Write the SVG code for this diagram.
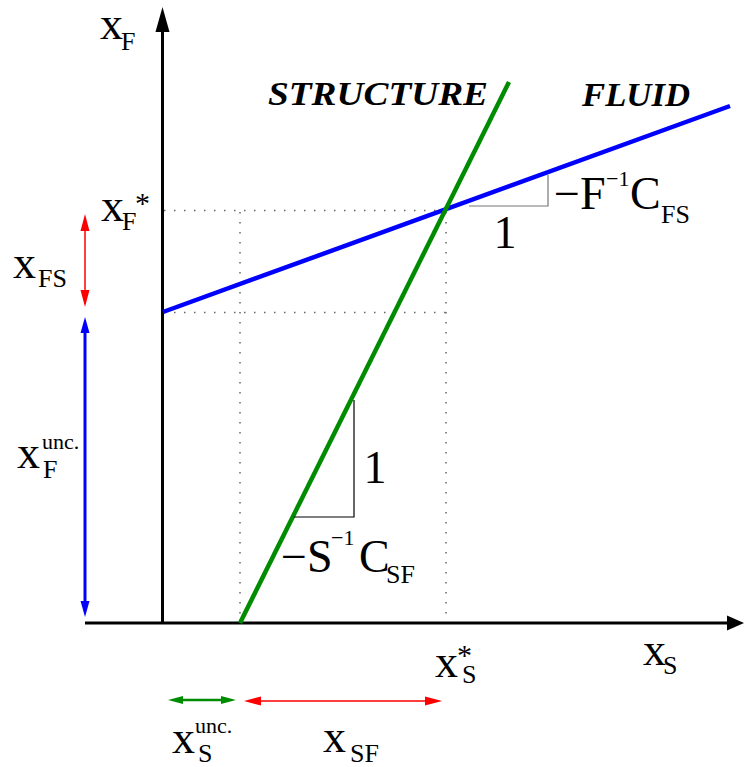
<svg xmlns="http://www.w3.org/2000/svg" width="744" height="767" viewBox="0 0 744 767">
<style>
.t{font-family:"Liberation Serif","Times New Roman",serif;fill:#000;font-size:46px}
.sub{font-size:26px}
.sup{font-size:22px}
.ast{font-size:30px}
.title{font-family:"Liberation Serif","Times New Roman",serif;font-weight:bold;font-style:italic;font-size:33px;fill:#000}
.axis{stroke:#000;stroke-width:3;fill:none}
.dot{stroke:#666;stroke-width:1.5;stroke-dasharray:1.5 8.5;fill:none}
.tri{stroke-width:1.2;fill:none}
</style>
<defs>
<marker id="ahR" markerUnits="userSpaceOnUse" orient="auto-start-reverse" refX="0" refY="0" markerWidth="20" markerHeight="12" overflow="visible">
<path d="M0,-4.5 L17,0 L0,4.5 z" fill="#ff0000"/>
</marker>
<marker id="ahB" markerUnits="userSpaceOnUse" orient="auto-start-reverse" refX="0" refY="0" markerWidth="20" markerHeight="12" overflow="visible">
<path d="M0,-4.5 L16,0 L0,4.5 z" fill="#0000ff"/>
</marker>
<marker id="ahG" markerUnits="userSpaceOnUse" orient="auto-start-reverse" refX="0" refY="0" markerWidth="20" markerHeight="12" overflow="visible">
<path d="M0,-4 L15,0 L0,4 z" fill="#008c00"/>
</marker>
</defs>

<g id="guides">
<line class="dot" x1="164" y1="210.5" x2="446" y2="210.5"/>
<line class="dot" x1="164" y1="312.5" x2="446" y2="312.5"/>
<line class="dot" x1="240" y1="212" x2="240" y2="622"/>
<line class="dot" x1="446" y1="212" x2="446" y2="622"/>
</g>

<g id="axes">
<line class="axis" x1="162.5" y1="623" x2="162.5" y2="30"/>
<polygon points="162.5,7 155.5,32 169.5,32" fill="#000"/>
<line class="axis" x1="85" y1="623" x2="729" y2="623"/>
<polygon points="744,623 727,615.5 727,630.5" fill="#000"/>
</g>

<g id="connectors">
<line id="fluid-line" x1="163" y1="312" x2="730" y2="106" stroke="#0000ff" stroke-width="4.5"/>
<line id="structure-line" x1="240" y1="623" x2="509" y2="82" stroke="#008c00" stroke-width="4.5"/>
<polyline class="tri" points="469,206 548,206 548,175" stroke="#777"/>
<polyline class="tri" points="294,517 354,517 354,400" stroke="#000"/>
<line x1="85" y1="231" x2="85" y2="290" stroke="#ff0000" stroke-width="1.5" marker-start="url(#ahR)" marker-end="url(#ahR)"/>
<line x1="85" y1="333" x2="85" y2="601" stroke="#0000ff" stroke-width="3" marker-start="url(#ahB)" marker-end="url(#ahB)"/>
<line x1="183" y1="700" x2="221" y2="700" stroke="#008c00" stroke-width="2.5" marker-start="url(#ahG)" marker-end="url(#ahG)"/>
<line x1="261" y1="701" x2="425" y2="701" stroke="#ff0000" stroke-width="1.5" marker-start="url(#ahR)" marker-end="url(#ahR)"/>
</g>

<g id="label-xF">
<text class="t" x="100" y="39">x<tspan class="sub" x="121" y="50">F</tspan></text>
</g>
<g id="label-xFstar">
<text class="t" x="101" y="221">x<tspan class="sub" x="122" y="230">F</tspan><tspan class="ast" x="135" y="213">*</tspan></text>
</g>
<g id="label-xFS">
<text class="t" x="13" y="278">x<tspan class="sub" x="38" y="287">FS</tspan></text>
</g>
<g id="label-xFunc">
<text class="t" x="17" y="468">x<tspan class="sup" x="42" y="449">unc.</tspan><tspan class="sub" x="43" y="478">F</tspan></text>
</g>
<g id="label-structure">
<text class="title" x="268" y="105" textLength="220" lengthAdjust="spacingAndGlyphs">STRUCTURE</text>
</g>
<g id="label-fluid">
<text class="title" x="582" y="106" textLength="108" lengthAdjust="spacingAndGlyphs">FLUID</text>
</g>
<g id="label-slopeF">
<text class="t" x="505" y="248" text-anchor="middle">1</text>
<text class="t" x="554" y="209">−F<tspan class="sup" x="606" y="186">−1</tspan><tspan x="630" y="209">C</tspan><tspan class="sub" x="661" y="223">FS</tspan></text>
</g>
<g id="label-slopeS">
<text class="t" x="375" y="483" text-anchor="middle">1</text>
<text class="t" x="281" y="572">−S<tspan class="sup" x="331" y="545">−1</tspan><tspan x="359" y="572">C</tspan><tspan class="sub" x="386" y="583">SF</tspan></text>
</g>
<g id="label-xSstar">
<text class="t" x="435" y="677">x<tspan class="ast" x="457" y="665">*</tspan><tspan class="sub" x="462" y="683">S</tspan></text>
</g>
<g id="label-xS">
<text class="t" x="643" y="665">x<tspan class="sub" x="663" y="674">S</tspan></text>
</g>
<g id="label-xSunc">
<text class="t" x="172" y="753">x<tspan class="sup" x="195" y="733">unc.</tspan><tspan class="sub" x="198" y="762">S</tspan></text>
</g>
<g id="label-xSF">
<text class="t" x="323" y="752">x<tspan class="sub" x="350" y="762">SF</tspan></text>
</g>
</svg>
